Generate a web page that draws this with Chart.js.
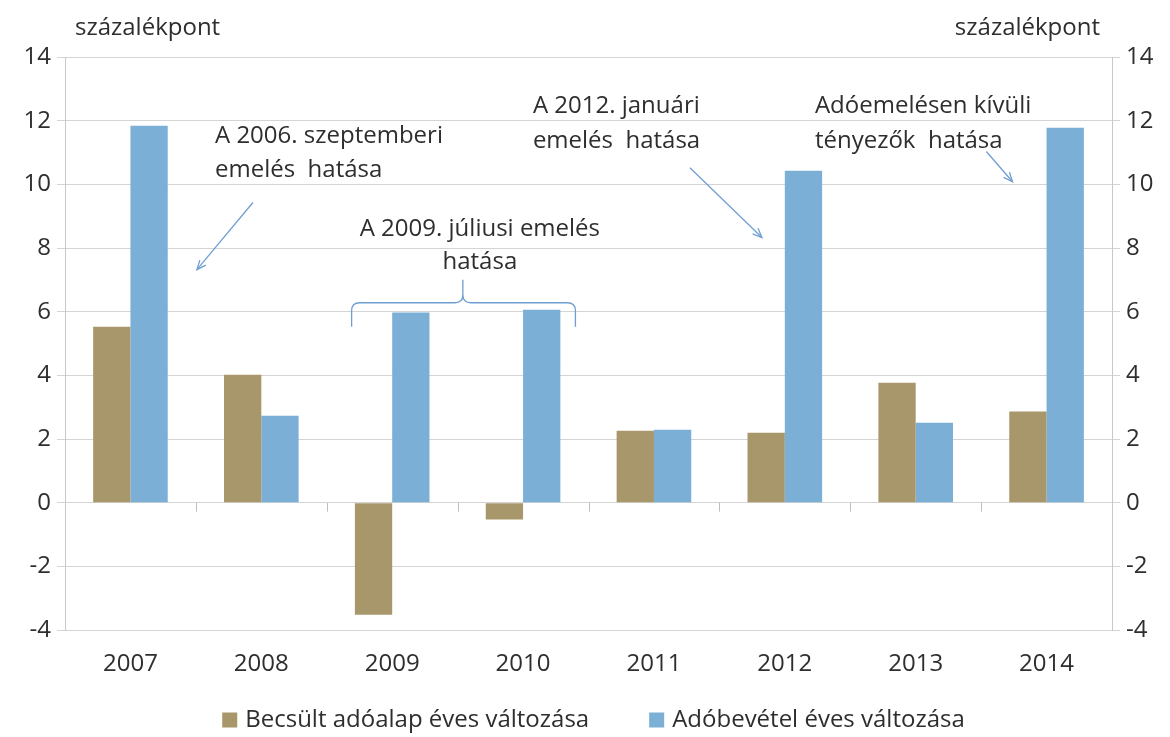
<!DOCTYPE html>
<html>
<head>
<meta charset="utf-8">
<script src="https://cdn.jsdelivr.net/npm/chart.js@4.4.0/dist/chart.umd.min.js"></script>
<style>
  html,body{margin:0;padding:0;background:#fff;}
  #wrap{width:1170px;height:737px;position:relative;}
</style>
</head>
<body>
<div id="wrap"><canvas id="c"></canvas></div>
<script>
// adatok
const years = ['2007','2008','2009','2010','2011','2012','2013','2014'];
const adoalap = [5.53, 4.02, -3.52, -0.53, 2.26, 2.20, 3.77, 2.86];
const adobevetel = [11.84, 2.73, 5.97, 6.06, 2.29, 10.43, 2.51, 11.78];
const yTicks = [14, 12, 10, 8, 6, 4, 2, 0, -2, -4];
const unitLabel = 'százalékpont';

// annotációk (x: kategória-egység 0..8, y: érték)
const notes = [
  {lines:['A 2006. szeptemberi','emelés  hatása'], x:1.146, y:[11.5, 10.46], align:'left'},
  {lines:['A 2009. júliusi emelés','hatása'], x:3.17, y:[8.58, 7.57], align:'center'},
  {lines:['A 2012. januári','emelés  hatása'], x:3.575, y:[12.45, 11.35], align:'left'},
  {lines:['Adóemelésen kívüli','tényezők  hatása'], x:5.73, y:[12.45, 11.35], align:'left'}
];
const arrows = [
  {from:[1.436, 9.43], to:[1.008, 7.32]},
  {from:[4.775, 10.52], to:[5.325, 8.33]},
  {from:[7.04, 11.03], to:[7.24, 10.08]}
];
const brace = {x0:2.19, x1:3.90, xm:3.04, yTop:6.28, yEnd:5.53, yPeak:7.0};

const FONT = '"Open Sans", "Noto Sans", sans-serif';
const FS = 24;
const TXT = '#2e2e2e';
const ARROW = '#6f9fd2';
const GRID = '#d4d4d4';

const annotPlugin = {
  id:'annot',
  afterDatasetsDraw(chart){
    const {ctx, chartArea, scales} = chart;
    const xs = scales.x, ys = scales.y;
    const px = v => xs.left + v * (xs.width / years.length);
    const py = v => ys.getPixelForValue(v);
    ctx.save();
    ctx.font = FS + 'px ' + FONT;
    ctx.fillStyle = TXT;
    ctx.textBaseline = 'middle';
    notes.forEach(n=>{
      ctx.textAlign = n.align;
      n.lines.forEach((l,i)=> ctx.fillText(l, px(n.x), py(n.y[i])));
    });
    // nyilak
    ctx.strokeStyle = ARROW;
    ctx.lineWidth = 1.3;
    arrows.forEach(a=>{
      const x1 = px(a.from[0]), y1 = py(a.from[1]);
      const x2 = px(a.to[0]), y2 = py(a.to[1]);
      ctx.beginPath(); ctx.moveTo(x1,y1); ctx.lineTo(x2,y2); ctx.stroke();
      const ang = Math.atan2(y2-y1, x2-x1), h = 10;
      ctx.beginPath();
      ctx.moveTo(x2 - h*Math.cos(ang-0.4), y2 - h*Math.sin(ang-0.4));
      ctx.lineTo(x2,y2);
      ctx.lineTo(x2 - h*Math.cos(ang+0.4), y2 - h*Math.sin(ang+0.4));
      ctx.stroke();
    });
    // kapcsos zárójel
    const bx0 = px(brace.x0), bx1 = px(brace.x1), bxm = px(brace.xm);
    const byT = py(brace.yTop), byE = py(brace.yEnd), byP = py(brace.yPeak);
    const r = 8;
    ctx.beginPath();
    ctx.moveTo(bx0, byE);
    ctx.lineTo(bx0, byT + r);
    ctx.quadraticCurveTo(bx0, byT, bx0 + r, byT);
    ctx.lineTo(bxm - r, byT);
    ctx.quadraticCurveTo(bxm, byT, bxm, byT - r);
    ctx.lineTo(bxm, byP);
    ctx.moveTo(bxm, byT - r);
    ctx.quadraticCurveTo(bxm, byT, bxm + r, byT);
    ctx.lineTo(bx1 - r, byT);
    ctx.quadraticCurveTo(bx1, byT, bx1, byT + r);
    ctx.lineTo(bx1, byE);
    ctx.stroke();
    // egység feliratok
    ctx.fillStyle = TXT;
    ctx.textBaseline = 'middle';
    ctx.textAlign = 'left';
    ctx.fillText(unitLabel, chartArea.left + 10, chartArea.top - 29);
    ctx.textAlign = 'right';
    ctx.fillText(unitLabel, chartArea.right - 12, chartArea.top - 29);
    // kis osztásjelek a nulla vonalon
    const y0 = py(0);
    ctx.strokeStyle = '#bfbfbf';
    ctx.lineWidth = 1;
    for(let i=1;i<years.length;i++){
      const x = Math.round(px(i)) + 0.5;
      ctx.beginPath(); ctx.moveTo(x, y0); ctx.lineTo(x, y0 + 9); ctx.stroke();
    }
    // jelmagyarázat
    const box = 15, gap = 8, between = 60, ly = chart.height - 17;
    const items = chart.data.datasets.map(d=>({label:d.label, color:d.backgroundColor, w:ctx.measureText(d.label).width}));
    const total = items.reduce((s,it)=> s + box + gap + it.w, 0) + between*(items.length-1);
    let lx = (chartArea.left + chartArea.right)/2 - total/2 + 5;
    ctx.textAlign = 'left';
    items.forEach(it=>{
      ctx.fillStyle = it.color;
      ctx.fillRect(lx, ly - box/2, box, box);
      ctx.fillStyle = TXT;
      ctx.fillText(it.label, lx + box + gap, ly);
      lx += box + gap + it.w + between;
    });
    ctx.restore();
  }
};

const tickCb = v => yTicks.includes(v) ? String(v) : '';

new Chart(document.getElementById('c'), {
  type:'bar',
  data:{
    labels: years,
    datasets:[
      {label:'Becsült adóalap éves változása', data:adoalap, backgroundColor:'#a8976b', yAxisID:'y'},
      {label:'Adóbevétel éves változása', data:adobevetel, backgroundColor:'#7bafd6', yAxisID:'y'}
    ]
  },
  options:{
    responsive:true,
    maintainAspectRatio:false,
    animation:false,
    datasets:{bar:{categoryPercentage:0.57, barPercentage:1.0}},
    layout:{padding:{top:57, left:0, right:0, bottom:44}},
    plugins:{
      legend:{display:false},
      tooltip:{enabled:false}
    },
    scales:{
      x:{
        grid:{display:false},
        border:{display:false},
        afterFit:s=>{ s.height = 63; },
        ticks:{color:TXT, font:{family:FONT, size:FS}, padding:12}
      },
      y:{
        position:'left',
        min:-4, max:14,
        afterFit:s=>{ s.width = 65; },
        ticks:{stepSize:2, color:TXT, font:{family:FONT, size:FS}, padding:6, callback:tickCb},
        grid:{color:GRID, tickLength:8, drawTicks:true},
        border:{color:'#c8c8c8'}
      },
      y2:{
        position:'right',
        min:-4, max:14,
        afterFit:s=>{ s.width = 58; },
        ticks:{stepSize:2, color:TXT, font:{family:FONT, size:FS}, padding:6, callback:tickCb},
        grid:{drawOnChartArea:false, color:GRID, tickLength:8},
        border:{color:'#c8c8c8'}
      }
    }
  },
  plugins:[annotPlugin]
});
</script>
</body>
</html>
